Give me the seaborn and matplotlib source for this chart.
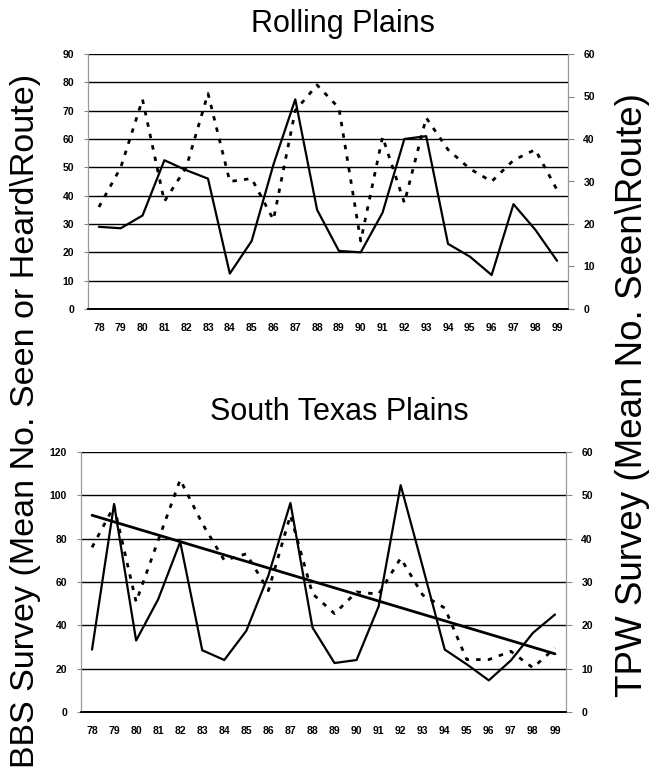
import numpy as np
import pandas as pd
import matplotlib
matplotlib.use("Agg")
import matplotlib.pyplot as plt
import seaborn as sns

# years 1978-1999, shown as two-digit labels
years = [str(y) for y in range(78, 100)]

# Rolling Plains
rp_bbs = [29, 28.5, 33, 52.5, 49, 46, 12.5, 24, 51, 74, 35, 20.5, 20, 34, 60, 61, 23, 18.5, 12, 37, 28, 17]
rp_tpw = [24, 33.3, 49.3, 25.3, 33.3, 50.7, 30, 30.7, 21, 46.7, 52.7, 47.3, 16, 40.5, 25, 45, 37.5, 33, 30, 35, 37.5, 28]

# South Texas Plains
st_bbs = [28.8, 96, 33, 52, 78.5, 28.5, 24, 37.5, 63, 96.5, 39, 22.6, 24, 48.7, 104.7, 67, 28.8, 22, 14.6, 23.8, 36.5, 45]
st_tpw = [38, 47.5, 25.4, 39.6, 53.6, 43.5, 35, 36.5, 28, 45.4, 27.3, 22.7, 27.7, 27.2, 35.5, 27, 24, 12.1, 12.1, 14, 10.2, 14.8]

sns.set_style("white")
plt.rcParams['font.family'] = ['Liberation Sans', 'DejaVu Sans']
plt.rcParams['text.color'] = 'black'
plt.rcParams['xtick.color'] = 'black'
plt.rcParams['ytick.color'] = 'black'

fig = plt.figure(figsize=(6.56, 7.8), dpi=100)

def panel(rect, bbs, tpw, ymax_left, step_left, trend=False):
    ax = fig.add_axes(rect)
    ax2 = ax.twinx()
    x = np.arange(len(years))
    df = pd.DataFrame({'x': x, 'bbs': bbs, 'tpw': tpw})

    sns.lineplot(data=df, x='x', y='bbs', ax=ax, color='black', lw=1.6)
    sns.lineplot(data=df, x='x', y='tpw', ax=ax2, color='black', lw=2.0,
                 linestyle=(0, (1.6, 2.6)))
    if trend:
        # linear trend of the TPW series
        k, b = np.polyfit(x, tpw, 1)
        df['trend'] = k * x + b
        sns.lineplot(data=df, x='x', y='trend', ax=ax2, color='black', lw=2.0)

    ax.set_xlim(-0.5, len(years) - 0.5)
    ax.set_ylim(0, ymax_left)
    ax.set_yticks(np.arange(0, ymax_left + 1, step_left))
    ax2.set_ylim(0, 60)
    ax2.set_yticks(np.arange(0, 61, 10))

    ax.set_xticks(x)
    ax.set_xticklabels(years)
    ax.set_xticks(np.arange(-0.5, len(years)), minor=True)
    ax.tick_params(axis='x', which='major', length=0, pad=10)
    ax.tick_params(axis='x', which='minor', length=4, width=1, color='black', direction='out')
    ax.tick_params(axis='y', length=3, color='#888888', direction='out', pad=7)
    ax2.tick_params(axis='y', length=4, color='#888888', direction='out', pad=7)
    for a in (ax, ax2):
        for lab in a.get_xticklabels() + a.get_yticklabels():
            lab.set_fontsize(7.5)
            lab.set_fontweight('bold')
        a.set_xlabel('')
        a.set_ylabel('')

    ax.yaxis.grid(True, color='black', lw=1.0)
    ax.set_axisbelow(True)
    ax2.grid(False)
    for a in (ax, ax2):
        a.spines['top'].set_visible(False)
        a.spines['left'].set_color('#999999')
        a.spines['right'].set_color('#999999')
        a.spines['bottom'].set_color('black')
        a.spines['bottom'].set_linewidth(1.2)
    return ax, ax2

panel([88 / 656, 1 - 309 / 780, 480 / 656, 255 / 780], rp_bbs, rp_tpw, 90, 10)
panel([81 / 656, 1 - 712 / 780, 485 / 656, 260 / 780], st_bbs, st_tpw, 120, 20, trend=True)

fig.text(343 / 656, 1 - 32 / 780, 'Rolling Plains', ha='center', va='baseline', fontsize=22)
fig.text(339 / 656, 1 - 420 / 780, 'South Texas Plains', ha='center', va='baseline', fontsize=22)

fig.text(26 / 656, 1 - 421 / 780, 'BBS Survey (Mean No. Seen or Heard\\Route)',
         rotation=90, ha='center', va='center', fontsize=24.5)
fig.text(632 / 656, 1 - 395 / 780, 'TPW Survey (Mean No. Seen\\Route)',
         rotation=90, ha='center', va='center', fontsize=26.5)

fig.savefig('out.png', dpi=100)
